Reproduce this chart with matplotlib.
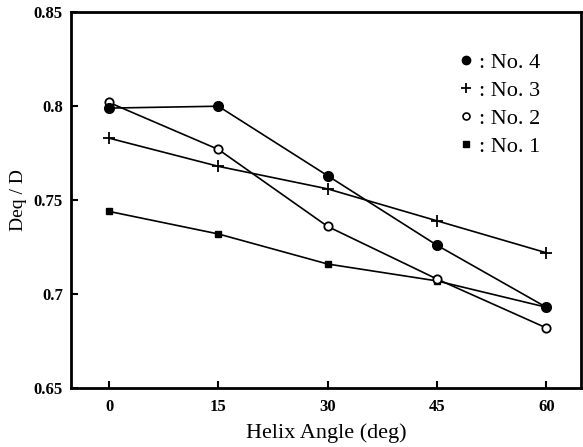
import matplotlib.pyplot as plt
from matplotlib.lines import Line2D

# Helix angle (deg) and Deq/D for each specimen
angles = [0, 15, 30, 45, 60]
no4 = [0.799, 0.800, 0.763, 0.726, 0.693]
no3 = [0.783, 0.768, 0.756, 0.739, 0.722]
no2 = [0.802, 0.777, 0.736, 0.708, 0.682]
no1 = [0.744, 0.732, 0.716, 0.707, 0.693]

y_ticks = [0.65, 0.7, 0.75, 0.8, 0.85]
y_labels = ['0.65', '0.7', '0.75', '0.8', '0.85']

plt.rcParams['font.family'] = 'serif'
plt.rcParams['font.serif'] = ['Liberation Serif', 'DejaVu Serif']

fig = plt.figure(figsize=(5.83, 4.47), dpi=100)
ax = fig.add_axes([0.122, 0.132, 0.875, 0.8405])

ax.plot(angles, no1, color='black', lw=1.2, marker='s', ms=4.5)
ax.plot(angles, no2, color='black', lw=1.2, marker='o', ms=6,
        mfc='white', mew=1.3)
ax.plot(angles, no3, color='black', lw=1.2, marker='+', ms=9, mew=1.3)
ax.plot(angles, no4, color='black', lw=1.2, marker='o', ms=7)

ax.set_xlim(-5.2, 64.8)
ax.set_ylim(0.65, 0.85)
ax.set_xticks(angles)
ax.set_yticks(y_ticks)
ax.set_yticklabels(y_labels)
ax.tick_params(direction='in', length=5, width=1.5, labelsize=12)
ax.tick_params(axis='x', pad=8)
ax.tick_params(axis='y', pad=6)
for lab in ax.get_xticklabels() + ax.get_yticklabels():
    lab.set_fontweight('bold')
for s in ax.spines.values():
    s.set_linewidth(2)

ax.set_xlabel('Helix Angle (deg)', fontsize=16, labelpad=6)
ax.set_ylabel('Deq / D', fontsize=14, labelpad=5)

# Legend with marker-only handles
handles = [
    Line2D([], [], ls='none', color='black', marker='o', ms=6),
    Line2D([], [], ls='none', color='black', marker='+', ms=7, mew=1.3),
    Line2D([], [], ls='none', color='black', marker='o', ms=5,
           mfc='white', mew=1.2),
    Line2D([], [], ls='none', color='black', marker='s', ms=4),
]
labels = [': No. 4', ': No. 3', ': No. 2', ': No. 1']
ax.legend(handles, labels, loc='upper left', bbox_to_anchor=(0.737, 0.922),
          frameon=False, fontsize=16, handlelength=0.7, handletextpad=0.25,
          labelspacing=0.33, borderpad=0)

fig.savefig('out.png', dpi=100)
